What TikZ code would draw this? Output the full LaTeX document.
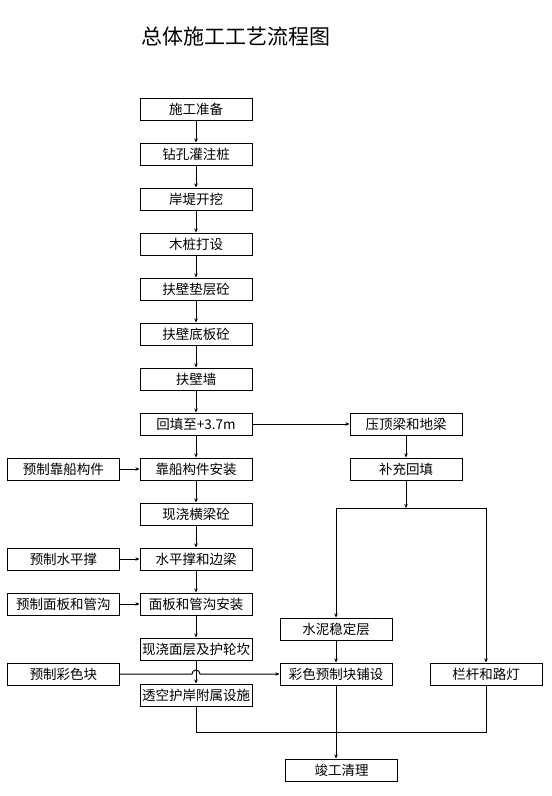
\documentclass[tikz,border=0pt]{standalone}
\usepackage{fontspec}
\newfontfamily\cjk{Noto Sans CJK SC}
\usetikzlibrary{arrows.meta,calc}

\begin{document}
\begin{tikzpicture}[x=1pt, y=-1pt,
    stepbox/.style={draw, line width=1pt, minimum width=112pt, minimum height=22pt, inner sep=0pt, font=\cjk\fontsize{13.5}{14}\selectfont},
    flow/.style={line width=1pt, -{Stealth[length=4pt, width=3.5pt]}},
    link/.style={line width=1pt}
  ]
  \useasboundingbox (0,0) rectangle (552,796);

  % Title
  \node[font=\cjk\fontsize{21}{22}\selectfont] (title) at (236,37) {总体施工工艺流程图};

  % Main column
  \node[stepbox] (prep) at (196,109) {施工准备};
  \node[stepbox] (bore) at (196,154) {钻孔灌注桩};
  \node[stepbox] (dig) at (196,199) {岸堤开挖};
  \node[stepbox] (pile) at (196,244) {木桩打设};
  \node[stepbox] (cushion) at (196,289) {扶壁垫层砼};
  \node[stepbox] (base) at (196,334) {扶壁底板砼};
  \node[stepbox] (wall) at (196,379) {扶壁墙};
  \node[stepbox] (fill) at (196,424) {回填至+3.7m};
  \node[stepbox] (berth) at (196,469) {靠船构件安装};
  \node[stepbox] (beam) at (196,514) {现浇横梁砼};
  \node[stepbox] (brace) at (196,559) {水平撑和边梁};
  \node[stepbox] (panel) at (196,604) {面板和管沟安装};
  \node[stepbox] (cast) at (196,649) {现浇面层及护轮坎};
  \node[stepbox] (facil) at (196,695) {透空护岸附属设施};

  % Prefabricated parts
  \node[stepbox] (pberth) at (63.5,469) {预制靠船构件};
  \node[stepbox] (pbrace) at (63.5,559) {预制水平撑};
  \node[stepbox] (ppanel) at (63.5,604) {预制面板和管沟};
  \node[stepbox] (pcolor) at (63.5,674) {预制彩色块};

  % Right branch
  \node[stepbox] (cap) at (406,424) {压顶梁和地梁};
  \node[stepbox] (refill) at (406,469) {补充回填};
  \node[stepbox] (cement) at (336,629) {水泥稳定层};
  \node[stepbox] (pave) at (336,674) {彩色预制块铺设};
  \node[stepbox] (rail) at (486,674) {栏杆和路灯};
  \node[stepbox] (done) at (341.5,770) {竣工清理};

  % Junction points
  \coordinate (split) at (406,508);
  \coordinate (splitL) at (336,508);
  \coordinate (splitR) at (486,508);
  \coordinate (mergeL) at (196,732);
  \coordinate (mergeR) at (486,732);
  \coordinate (hop) at (pcolor.east -| cast.south);

  % Main flow
  \draw[flow] (prep) -- (bore);
  \draw[flow] (bore) -- (dig);
  \draw[flow] (dig) -- (pile);
  \draw[flow] (pile) -- (cushion);
  \draw[flow] (cushion) -- (base);
  \draw[flow] (base) -- (wall);
  \draw[flow] (wall) -- (fill);
  \draw[flow] (fill) -- (berth);
  \draw[flow] (berth) -- (beam);
  \draw[flow] (beam) -- (brace);
  \draw[flow] (brace) -- (panel);
  \draw[flow] (panel) -- (cast);
  \draw[flow] (cast) -- (facil);

  % Feeds
  \draw[flow] (pberth) -- (berth);
  \draw[flow] (pbrace) -- (brace);
  \draw[flow] (ppanel) -- (panel);
  \draw[flow] (pcolor.east) -- ([xshift=-4pt]hop) arc[start angle=180, end angle=0, radius=4pt] -- (pave.west);

  % Right branch flow
  \draw[flow] (fill) -- (cap);
  \draw[flow] (cap) -- (refill);
  \draw[flow] (refill) -- (split);
  \draw[link] (splitL) -- (splitR);
  \draw[flow] (splitL) -- (cement);
  \draw[flow] (splitR) -- (rail);
  \draw[flow] (cement) -- (pave);

  % Merge to completion
  \draw[link] (facil) -- (mergeL) -- (mergeR) -- (rail);
  \draw[flow] (pave.south) -- (pave.south |- done.north);
\end{tikzpicture}
\end{document}
